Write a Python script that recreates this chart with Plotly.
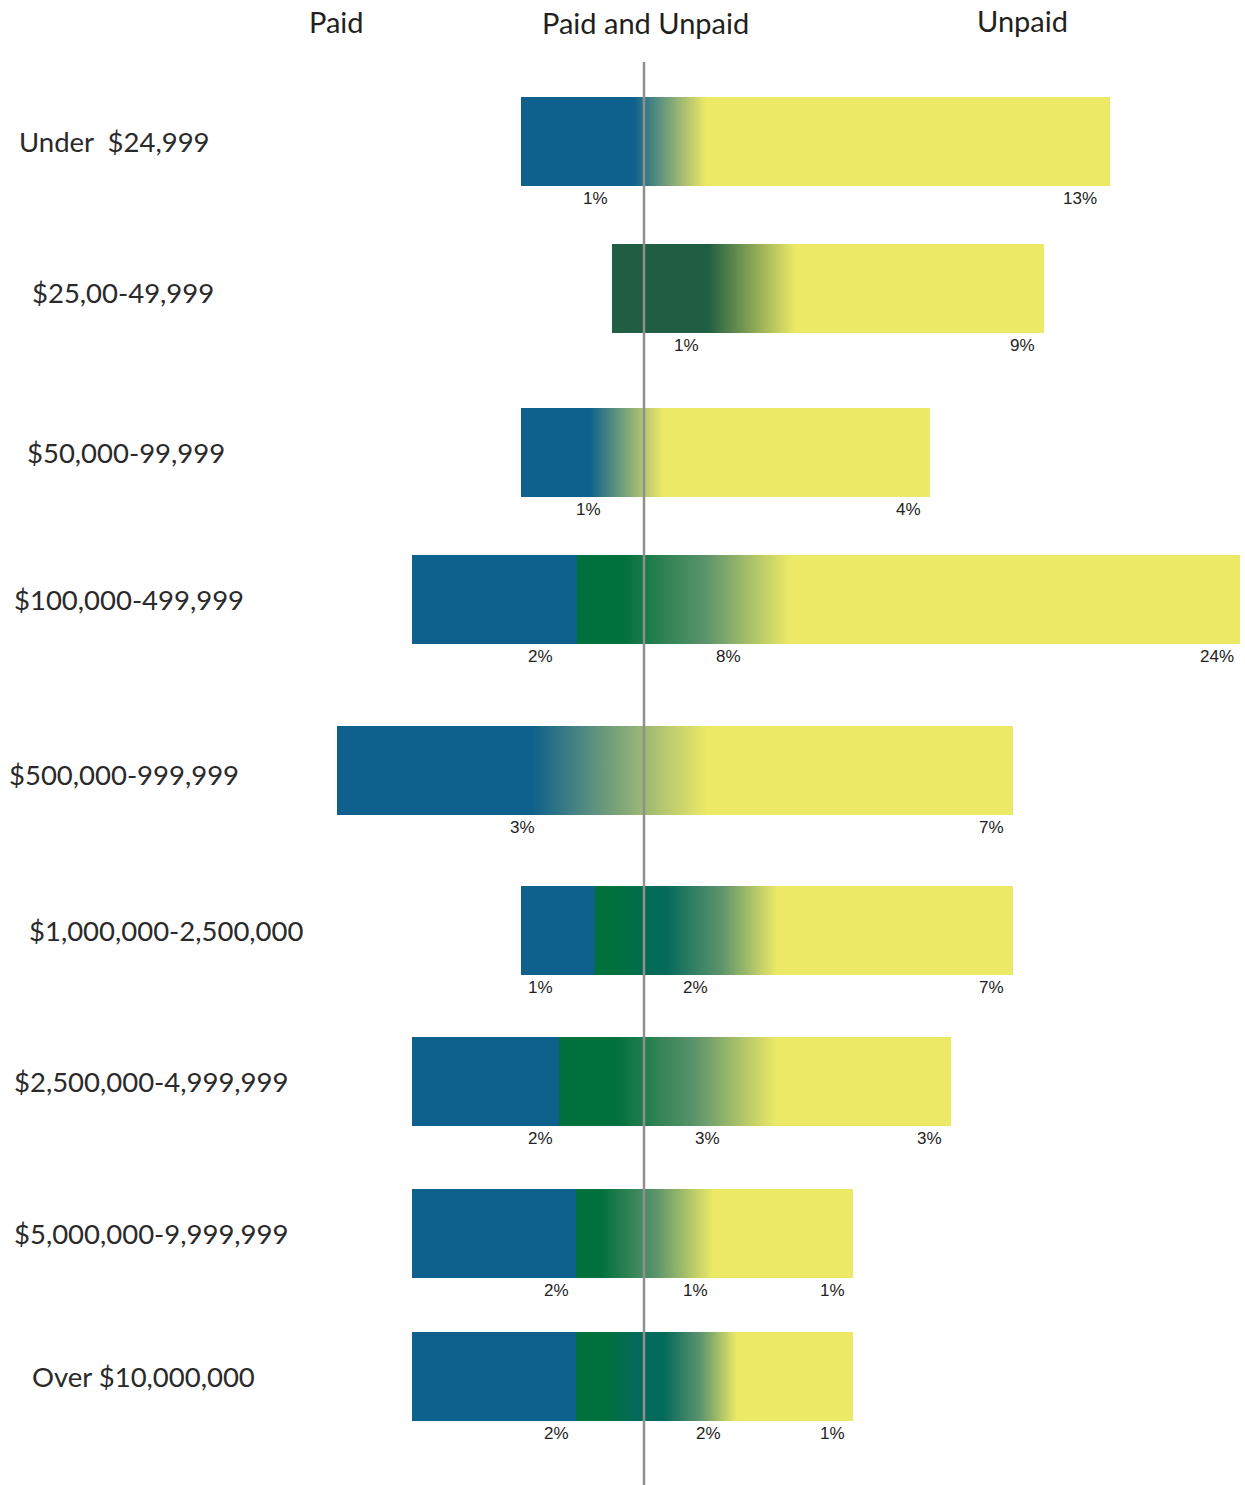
import plotly.graph_objects as go

# ---------------- data ----------------
categories = ["Under  $24,999", "$25,00-49,999", "$50,000-99,999", "$100,000-499,999",
              "$500,000-999,999", "$1,000,000-2,500,000", "$2,500,000-4,999,999",
              "$5,000,000-9,999,999", "Over $10,000,000"]

# percentage labels shown under each bar (None = no label)
paid_pct = [1, None, 1, 2, 3, 1, 2, 2, 2]
both_pct = [None, 1, None, 8, None, 2, 3, 1, 2]
unpaid_pct = [13, 9, 4, 24, 7, 7, 3, 1, 1]

# visual bar extents (display units, 0 = centre line)
left_extent = [123, 32, 123, 232, 307, 123, 232, 232, 232]
right_extent = [466, 400, 286, 596, 369, 369, 307, 209, 209]
paid_solid_end = [-10, None, -54, -67, -112, -49, -85, -68, -68]
both_solid_end = [None, 64, None, -22, None, -30, -29, -44, -40]
teal_range = [None, None, None, None, None, (18, 22), None, None, (-5, 20)]
unpaid_solid_start = [62, 151, 19, 146, 63, 133, 132, 69, 93]

# ---------------- layout / style ----------------
W, H = 1245, 1485
CX = 644                     # centre line position
BLUE = "#0e618c"
YELLOW = "#ece966"
GREEN = "#00703c"
DKGREEN = "#1f5e42"
TEAL = "#046a5c"
MIDGREEN = "#5c946c"          # muted mid tone of green -> yellow fades

bar_top = [97, 244, 408, 555, 726, 886, 1037, 1189, 1332]
bar_h = 89
cat_label_x = [17, 30, 25, 12, 7, 27, 12, 12, 30]
cat_label_dy = [0, 4, 0, 0, 4, 0, 0, 0, 0]
paid_lab_x = [-49, None, -56, -104, -122, -104, -104, -88, -88]
both_lab_x = [None, 42, None, 84, None, 51, 63, 51, 64]
unpaid_lab_x = [436, 378, 264, 573, 347, 347, 285, 188, 188]

fig = go.Figure()
annotations = []

for i, cat in enumerate(categories):
    l = -left_extent[i]
    r = right_extent[i]
    top = bar_top[i]
    bot = top + bar_h
    stops = []
    green_fade = False
    if paid_solid_end[i] is not None:
        stops += [(l, BLUE), (paid_solid_end[i], BLUE)]
        if both_solid_end[i] is not None:
            stops += [(paid_solid_end[i], GREEN), (both_solid_end[i], GREEN)]
            green_fade = True
    else:
        stops += [(l, DKGREEN), (both_solid_end[i], DKGREEN)]
    if teal_range[i] is not None:
        stops += [(teal_range[i][0], TEAL), (teal_range[i][1], TEAL)]
    if green_fade:
        a = stops[-1][0]
        b = unpaid_solid_start[i]
        stops += [(a + 0.5 * (b - a), MIDGREEN)]
    stops += [(unpaid_solid_start[i], YELLOW), (r, YELLOW)]
    span = r - l
    cs = []
    last = 0.0
    for x, c in stops:
        t = max(last, min(1.0, (x - l) / span))
        cs.append([t, c])
        last = t
    cs[0][0] = 0.0
    cs[-1][0] = 1.0
    fig.add_trace(go.Scatter(
        x=[l, r, r, l, l], y=[top, top, bot, bot, top],
        mode="lines", line=dict(width=0), fill="toself",
        fillgradient=dict(type="horizontal", colorscale=cs, start=l, stop=r),
        hoverinfo="skip", showlegend=False, name=cat))

    # category label
    annotations.append(dict(
        x=cat_label_x[i] / W, xref="paper", y=top + bar_h / 2 + cat_label_dy[i], yref="y",
        text=cat, showarrow=False, xanchor="left", yanchor="middle",
        font=dict(family="Lato", size=27.5, color="#2a2a2a")))

    # value labels
    ly = bot + 12
    for xs, vals in ((paid_lab_x, paid_pct), (both_lab_x, both_pct), (unpaid_lab_x, unpaid_pct)):
        if vals[i] is None:
            continue
        annotations.append(dict(
            x=xs[i], xref="x", y=ly, yref="y", text=f"{vals[i]}%", showarrow=False,
            xanchor="center", yanchor="middle",
            font=dict(family="Liberation Sans", size=17, color="#222222")))

# headers
for txt, hx, hy in (("Paid", -308, 21), ("Paid and Unpaid", 1, 22), ("Unpaid", 378, 20)):
    annotations.append(dict(
        x=hx, xref="x", y=hy, yref="y", text=txt, showarrow=False,
        xanchor="center", yanchor="middle",
        font=dict(family="Lato", size=29, color="#231f20")))

fig.update_layout(
    width=W, height=H, autosize=False,
    margin=dict(l=0, r=0, t=0, b=0),
    paper_bgcolor="white", plot_bgcolor="white",
    xaxis=dict(range=[-CX, W - CX], visible=False, fixedrange=True),
    yaxis=dict(range=[H, 0], visible=False, fixedrange=True),
    annotations=annotations,
    shapes=[dict(type="line", xref="x", yref="y", x0=0, x1=0, y0=62, y1=H,
                 line=dict(color="#8f8f8f", width=2.5), layer="above")],
)

fig.write_html("out.html",
               config={"displayModeBar": False},
               post_script="document.body.style.margin='0px';document.body.style.overflow='hidden';")
